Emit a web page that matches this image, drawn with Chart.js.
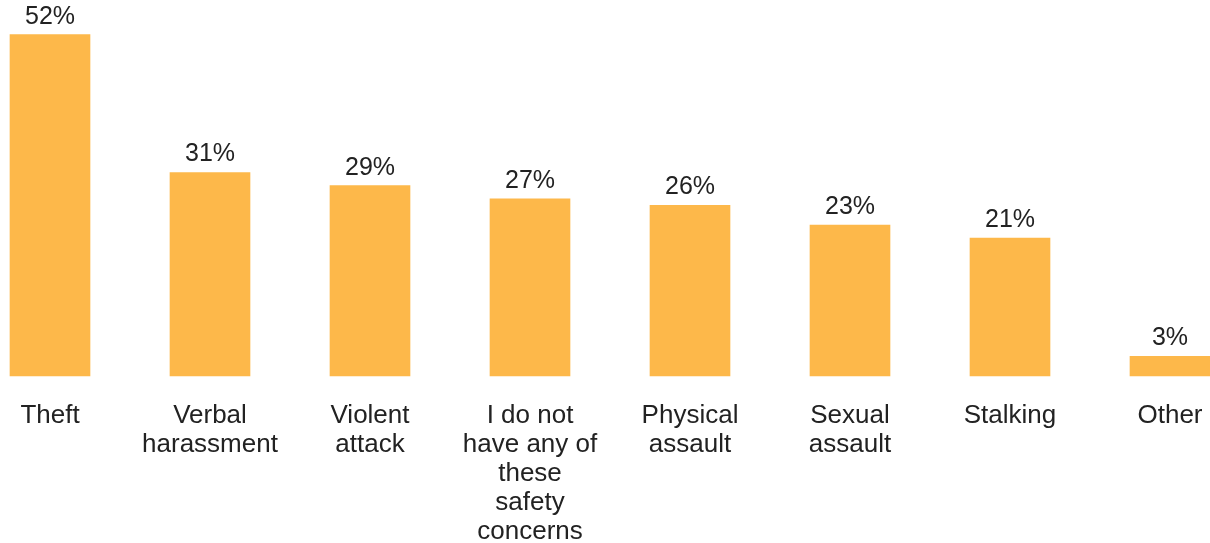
<!DOCTYPE html>
<html>
<head>
<meta charset="utf-8">
<script src="https://cdn.jsdelivr.net/npm/chart.js@4"></script>
<style>
  body { margin: 0; background: #fff; }
</style>
</head>
<body>
<canvas id="concerns-chart" width="1210" height="543"></canvas>
<script>
// Safety concerns, share of respondents
var categories = [
  "Theft",
  ["Verbal", "harassment"],
  ["Violent", "attack"],
  ["I do not", "have any of", "these", "safety", "concerns"],
  ["Physical", "assault"],
  ["Sexual", "assault"],
  "Stalking",
  "Other",
];
var percentages = [52, 31, 29, 27, 26, 23, 21, 3];

var barColor = "#fdb84a";
var textColor = "#222222";
var fontFamily = "'Liberation Sans', Arial, sans-serif";

// Draw "NN%" above each bar
var valueLabels = {
  id: "valueLabels",
  afterDatasetsDraw: function (chart) {
    var ctx = chart.ctx;
    var meta = chart.getDatasetMeta(0);
    ctx.save();
    ctx.font = "25px " + fontFamily;
    ctx.fillStyle = textColor;
    ctx.textAlign = "center";
    ctx.textBaseline = "middle";
    meta.data.forEach(function (bar, i) {
      ctx.fillText(percentages[i] + "%", bar.x, bar.y - 18);
    });
    ctx.restore();
  },
};

var ctx = document.getElementById("concerns-chart").getContext("2d");
var concerns_chart = new Chart(ctx, {
  type: "bar",
  data: {
    labels: categories,
    datasets: [
      {
        data: percentages,
        backgroundColor: barColor,
        barThickness: 80,
        clip: false,
      },
    ],
  },
  options: {
    responsive: false,
    animation: false,
    layout: { padding: { top: 15, left: 50, right: 40 } },
    plugins: {
      legend: { display: false },
      tooltip: { enabled: false },
    },
    scales: {
      x: {
        offset: false,
        grid: { display: false },
        border: { display: false },
        ticks: {
          color: textColor,
          font: { family: fontFamily, size: 26, lineHeight: 29 / 26 },
          padding: 17,
          maxRotation: 0,
          autoSkip: false,
        },
        afterFit: function (scale) {
          // fixed axis height; side room comes from layout padding only
          scale.height = 167;
          scale.paddingLeft = 0;
          scale.paddingRight = 0;
        },
      },
      y: {
        display: false,
        min: 0,
        max: 55,
      },
    },
  },
  plugins: [valueLabels],
});
</script>
</body>
</html>
